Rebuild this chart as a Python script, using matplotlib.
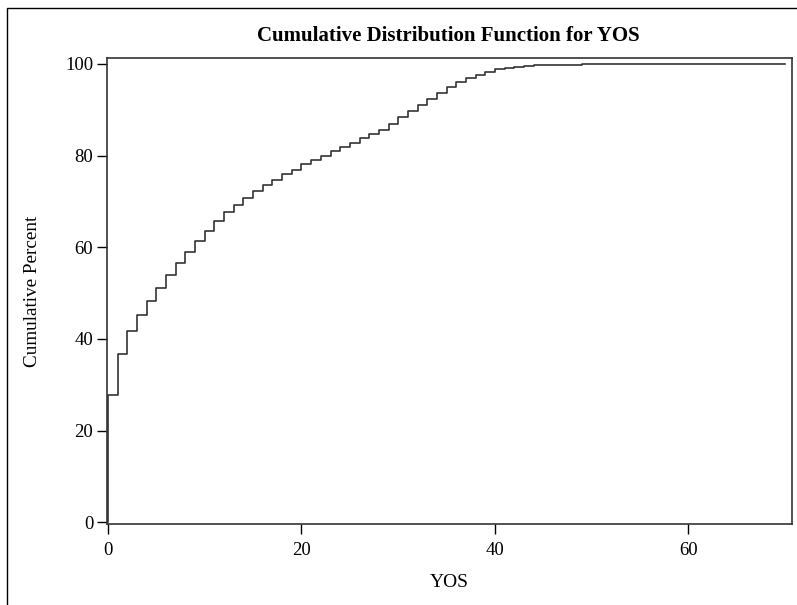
# Empirical CDF of years of service (YOS), drawn as a step function
import matplotlib.pyplot as plt
from matplotlib.patches import Rectangle

# --- Data --------------------------------------------------------------
# YOS values where the cumulative percent changes, and the level reached
yos = [0, 0, 1, 2, 3, 4, 5, 6, 7, 8, 9,
       10, 11, 12, 13, 14, 15, 16, 17, 18, 19,
       20, 21, 22, 23, 24, 25, 26, 27, 28, 29,
       30, 31, 32, 33, 34, 35, 36, 37, 38, 39,
       40, 41, 42, 43, 44, 46, 49, 70]
cum_pct = [0.0, 27.8, 36.7, 41.7, 45.3, 48.3, 51.2, 54.0, 56.5, 59.0, 61.3,
           63.6, 65.8, 67.6, 69.2, 70.8, 72.3, 73.6, 74.7, 75.9, 76.9,
           78.1, 79.1, 80.0, 80.9, 81.9, 82.8, 83.8, 84.8, 85.6, 86.9,
           88.5, 89.7, 91.0, 92.4, 93.7, 94.9, 96.0, 96.9, 97.7, 98.3,
           98.8, 99.1, 99.3, 99.5, 99.7, 99.8, 100.0, 100.0]

x_ticks = [0, 20, 40, 60]
y_ticks = [0, 20, 40, 60, 80, 100]

# --- Figure ------------------------------------------------------------
plt.rcParams['font.family'] = 'Liberation Serif'
fig = plt.figure(figsize=(7.97, 6.05), dpi=100)
ax = fig.add_axes([0.1343, 0.1339, 0.8594, 0.7702])

line_col = '#333333'
ax.step(yos, cum_pct, where='post', color=line_col, linewidth=1.2)

ax.set_xlim(-0.1, 70.7)
ax.set_ylim(-0.4, 101.3)
ax.set_xticks(x_ticks)
ax.set_yticks(y_ticks)

for side in ax.spines.values():
    side.set_color(line_col)
    side.set_linewidth(1.2)
ax.tick_params(axis='both', direction='out', length=7, width=1.0,
               color='black', labelsize=13.5)
ax.tick_params(axis='x', pad=6)
ax.tick_params(axis='y', pad=3)

ax.set_xlabel('YOS', fontsize=14, labelpad=11)
ax.set_ylabel('Cumulative Percent', fontsize=13.8, labelpad=17)
fig.text(0.5625, 0.932, 'Cumulative Distribution Function for YOS',
         ha='center', va='baseline', fontsize=15, fontweight='bold')

# thin frame around the whole output
fig.patches.append(Rectangle((7.5 / 797, -0.1), 1.2, 1.1 - 8 / 605,
                             transform=fig.transFigure, fill=False,
                             edgecolor='black', linewidth=1.0))

fig.savefig('out.png', dpi=100)
